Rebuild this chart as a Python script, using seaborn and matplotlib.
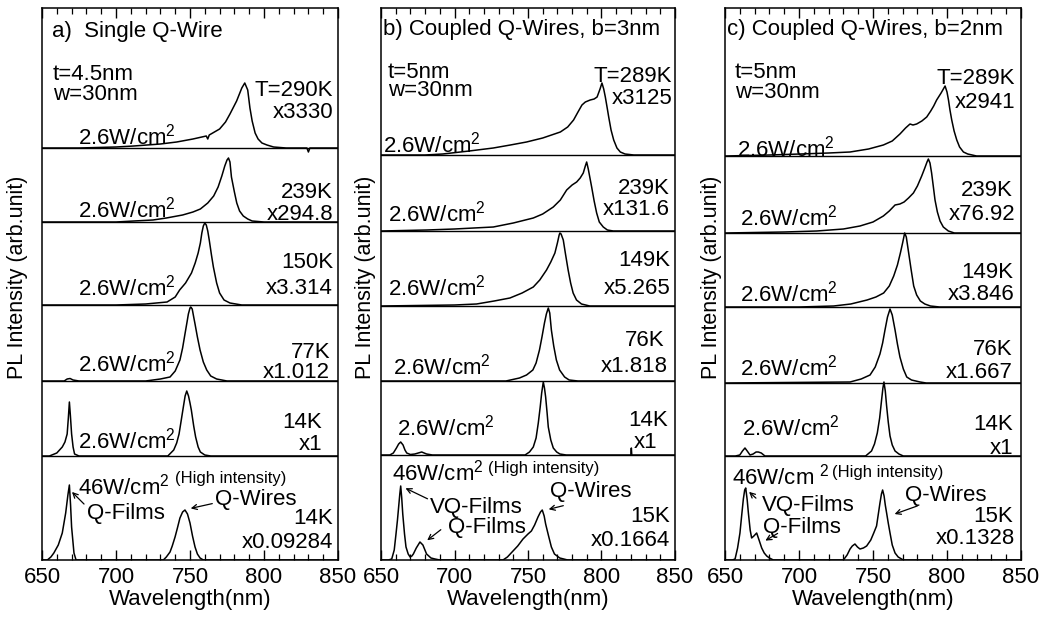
import numpy as np
import pandas as pd
import matplotlib
matplotlib.use("Agg")
import matplotlib.pyplot as plt
import seaborn as sns

# ---------------- data: (wavelength nm, PL intensity arb.) ----------------
a_290K = [(650,0),(675,0),(700,1),(712,2),(730,4),(741,6),(752,9),(758,11),(761,12),(762,9),(763,13),(770,19),(774,26),(777,34),(781.5,47),(785,60),(787,65),(789,58),(790.5,40),(792,27),(794,15),(796,9),(798.6,5),(802,3),(806.5,1),(815,0),(829,0),(830,-4),(831,0),(850,0)]
a_239K = [(650,0),(700,0),(712,1),(725,2),(734,4),(745,7),(752,10),(757,13),(762,19),(766,26),(769,35),(771.5,46),(773.5,56),(775,62),(776,64),(777,60),(778,45),(780,30),(781.6,19),(783.5,11),(786,6),(789,3),(792,1),(800,0),(850,0)]
a_150K = [(650,0),(700,0),(720,1),(734.5,3),(740,8),(743,15),(747,22),(751,32),(753.5,42),(755.5,52),(757,62),(758,72),(759,79),(760,82),(761,80),(762,74),(763,65),(764.5,50),(765.8,38),(768,22),(770,12),(773,5),(777,2),(785,0),(850,0)]
a_77K = [(650,0),(665,0),(667,2),(669,2.5),(671,1),(675,0),(720,0),(730,2),(736.5,4),(740,10),(743.2,21),(745,33),(746.6,47),(748,59),(748.9,67),(750,73),(750.5,74),(751.5,72),(752.5,64),(753.4,57),(755,44),(756.8,31),(759,19),(761.3,11),(764,5),(768,2),(775,0),(850,0)]
a_14K = [(650,0),(655,0),(660,3),(663.7,9),(665.5,14),(667,22),(667.8,38),(668.5,54),(669.2,40),(670,22),(671,9),(672,2),(675,0),(735,0),(739,6),(741,13),(742.6,22),(744,35),(745.5,49),(746.7,60),(747.8,65),(749,60),(750,53),(750.9,46),(752.5,30),(753.8,19),(755.5,9),(757,4),(760,1),(764,0),(850,0)]
a_14K_high = [(650,0),(653.6,0),(656,3),(658,7),(661,15),(663.7,27),(666,47),(667.5,65),(668.5,75),(669.3,55),(670,33),(671.6,7),(673,0),(732,0),(734,3),(736.5,8),(738,14),(739.9,23),(741.5,32),(743.2,42),(745,48),(746.6,50),(748.3,46),(750,37),(751.7,24),(753.4,13),(755,6),(756.8,2),(759,0),(850,0)]

b_289K = [(650,0),(680,0),(692,1),(710,4),(726.4,7),(738,10),(749,13),(760,17),(772,23),(777,28),(781,35),(784,43),(786.7,50),(789,53),(792.3,55),(795,56),(797,58),(799,66),(800.3,72),(801.5,66),(802.6,58),(804,46),(804.9,38),(806.5,25),(808.3,15),(810.5,7),(812.8,3),(816,1),(822,0),(850,0)]
b_239K = [(650,0),(681,1),(700,2),(726.4,4),(740,8),(753.6,13),(760,17),(767.2,24),(772,31),(776.3,41),(780,46),(783.1,49),(785.5,53),(787.6,58),(789,65),(789.9,69),(791,62),(793.3,44),(795,30),(796.7,18),(798.5,9),(801.2,4),(804,1),(808,0),(850,0)]
b_149K = [(650,0),(700,1),(715,2),(727,5),(737.7,8),(746,13),(753.6,19),(758,26),(762.6,36),(765.5,44),(768.3,53),(770,63),(771.2,71),(771.7,73),(772.5,72),(774,66),(775.5,52),(777.3,36),(779,23),(780.7,13),(783,6),(786.4,2),(792,0),(850,0)]
b_76K = [(650,0),(735,0),(744.2,3),(749,6),(753.3,11),(755.5,18),(757.8,31),(759.5,44),(761.2,58),(762.5,67),(763.8,73),(764.8,68),(765.9,51),(767.5,35),(769.3,21),(771.5,11),(774.9,4),(778,1),(784,0),(850,0)]
b_14K = [(650,0),(656,0),(658.4,2),(660.5,7),(662,11),(663.4,13),(665,10),(666.3,5),(667.5,2),(670,0.5),(673,1),(677.7,3),(681,1),(685,0),(748,0),(751,3),(753.6,8),(755.5,17),(757,32),(758.3,48),(759.3,62),(760.4,73),(761.2,67),(762,58),(763,42),(763.8,28),(765.5,15),(767.2,7),(769.5,3),(771.7,1),(776,0),(820,0),(820.3,7),(820.6,0),(850,0)]
b_15K_high = [(650,0),(655,0),(657.3,1),(659,10),(660.2,26),(661.2,40),(662,53),(662.8,66),(663.4,74),(664.1,62),(664.8,46),(666,26),(667,13),(668.5,6),(669.8,3),(671,4),(672,6),(674,12),(676.5,18),(678.5,15),(681,6),(684,2),(686.7,1),(690,0),(733,0),(736,3),(739.8,9),(743,14),(746.6,21),(750,26),(752.3,29),(754.5,35),(756.8,43),(758.5,48),(759.7,50),(761,44),(762,36),(764,24),(765.9,13),(768,6),(771.6,2),(777,0),(850,0)]

c_289K = [(650,0),(680,1),(700.7,2),(720,3),(734.5,4),(747,7),(757,11),(763,15),(768.2,22),(772,28),(775,32),(777,31),(779.5,32),(783,35),(786.3,39),(789,45),(791,50),(793,56),(796,63),(798.7,70),(800,64),(801,56),(802,46),(803.2,36),(804.8,25),(806.6,16),(808.5,9),(811.1,4),(814,2),(820,0),(850,0)]
c_239K = [(650,0),(690,1),(712,2),(730,4),(741.2,7),(750,11),(757,17),(761,22),(764.9,28),(768.2,29),(771,31),(774,35),(777.3,40),(780,47),(782.9,57),(785,65),(786.5,71),(787.4,74),(788.5,70),(789.6,60),(790.8,46),(791.9,33),(793.5,21),(795.3,12),(797.5,6),(800.9,2),(805,0),(850,0)]
c_149K = [(650,0),(700,0),(723.4,1),(735,3),(746,7),(752,10),(757.2,14),(761,21),(764,31),(766.5,42),(768.5,54),(770,64),(771.4,74),(772.5,70),(774.1,54),(775.8,37),(777.5,21),(779.5,12),(782,6),(785,3),(788.8,1),(795,0),(850,0)]
c_76K = [(650,0),(734.5,1),(742,4),(748,8),(751.5,16),(754.7,29),(756.5,40),(758.1,53),(759.8,66),(761.5,74),(763,68),(764.9,53),(766.5,39),(768.2,26),(770.5,14),(772.8,6),(776,3),(781.8,1),(786,0),(850,0)]
c_14K = [(650,0),(657,0),(660,1),(661.8,5),(663.5,8),(665,5),(666.9,1),(669,2),(671,4),(672.5,4),(674.5,3),(677,0),(745,0),(749,5),(751,12),(752.9,23),(754.5,38),(755.8,56),(756.7,68),(757.4,74),(758.3,65),(759.2,50),(760.3,34),(761.5,20),(763,11),(764.9,5),(767.5,2),(770.5,0),(850,0)]
c_15K_high = [(650,0),(655,0),(656.8,1),(658.5,12),(660.1,27),(661.3,45),(662.4,61),(663.3,70),(664,72),(665,60),(665.8,47),(667,30),(668,22),(669.5,24),(671.4,27),(673,20),(674.8,12),(676.5,7),(678.2,4),(680,2),(682.7,0),(730,0),(732.5,5),(734.5,11),(736,14),(737.8,16),(739.5,13),(741.2,11),(743.5,12),(745.7,14),(748.5,20),(750.5,27),(752.4,34),(753.5,45),(754.7,57),(755.7,66),(756.5,70),(757.5,64),(758.3,55),(759.2,47),(760.3,37),(761.5,27),(763,15),(764.9,7),(767,3),(770.5,0),(850,0)]

panel_titles = ["a)  Single Q-Wire", "b) Coupled Q-Wires, b=3nm", "c) Coupled Q-Wires, b=2nm"]
x_ticks = [650, 700, 750, 800, 850]

# ---------------- layout ----------------
sns.set_theme(style="ticks")
plt.rcParams['font.family'] = ['Liberation Sans', 'DejaVu Sans']
plt.rcParams['mathtext.fontset'] = 'custom'
plt.rcParams['mathtext.rm'] = 'Liberation Sans'
plt.rcParams['mathtext.it'] = 'Liberation Sans:italic'
plt.rcParams['mathtext.bf'] = 'Liberation Sans:bold'

W, H = 1045, 621
fig = plt.figure(figsize=(W / 100, H / 100), dpi=100)

TOP, BOT = 8, 560
panel_x = [(42, 338), (381, 675), (725, 1021)]
baselines_px = [
    [148, 222, 305, 381, 456, 560],
    [155, 231, 306, 381, 455, 560],
    [156, 233, 307, 383, 456, 560],
]
spectra = [
    [a_290K, a_239K, a_150K, a_77K, a_14K, a_14K_high],
    [b_289K, b_239K, b_149K, b_76K, b_14K, b_15K_high],
    [c_289K, c_239K, c_149K, c_76K, c_14K, c_15K_high],
]

FS = 16
ink = "black"


def ftext(x, y, s, ha="left", size=FS, **kw):
    fig.text(x / W, 1 - y / H, s, ha=ha, va="center", fontsize=size, color=ink, **kw)


def arrow(x0, y0, x1, y1):
    fig.add_artist(matplotlib.patches.FancyArrowPatch(
        (x0 / W, 1 - y0 / H), (x1 / W, 1 - y1 / H), transform=fig.transFigure,
        arrowstyle="->", mutation_scale=9, lw=0.9, color=ink))


for p in range(3):
    x0, x1 = panel_x[p]
    ax = fig.add_axes([x0 / W, 1 - BOT / H, (x1 - x0) / W, (BOT - TOP) / H])
    for k, spec in enumerate(spectra[p]):
        base = BOT - baselines_px[p][k]
        df = pd.DataFrame(spec, columns=["wl", "pl"])
        df["y"] = df["pl"] + base
        sns.lineplot(data=df, x="wl", y="y", ax=ax, color=ink, linewidth=1.1,
                     estimator=None, sort=False, legend=False)
        if k < 5:
            ax.axhline(base, color=ink, lw=1.0)
    ax.set_xlim(650, 850)
    ax.set_ylim(0, BOT - TOP)
    ax.set_yticks([])
    ax.set_xticks(x_ticks)
    ax.set_xticks(np.arange(650, 851, 10), minor=True)
    ax.tick_params(axis="x", which="both", direction="in", top=True, bottom=True,
                   labelsize=FS, colors=ink, pad=5)
    ax.tick_params(axis="x", which="major", length=7, width=1.0)
    ax.tick_params(axis="x", which="minor", length=4.5, width=0.9)
    for s in ax.spines.values():
        s.set_color(ink)
        s.set_linewidth(1.1)
    ax.set_xlabel("Wavelength(nm)", fontsize=FS, labelpad=1, color=ink)
    ax.set_ylabel("")

# y labels
for xc in (18, 365, 711):
    fig.text(xc / W, 1 - 277 / H, "PL Intensity (arb.unit)", rotation=90,
             ha="center", va="center", fontsize=15.5, color=ink)

# ---------------- panel a texts ----------------
ftext(52, 31, panel_titles[0])
ftext(53, 75, "t=4.5nm")
ftext(53, 95, "w=30nm")
ftext(333, 90, "T=290K", ha="right")
ftext(333, 113, "x3330", ha="right")
ftext(78, 137, "2.6W/cm$^2$")
ftext(333, 192, "239K", ha="right")
ftext(333, 214, "x294.8", ha="right")
ftext(78, 210, "2.6W/cm$^2$")
ftext(333, 263, "150K", ha="right")
ftext(333, 288, "x3.314", ha="right")
ftext(78, 288, "2.6W/cm$^2$")
ftext(330, 353, "77K", ha="right")
ftext(330, 373, "x1.012", ha="right")
ftext(78, 364, "2.6W/cm$^2$")
ftext(322, 422, "14K", ha="right")
ftext(322, 445, "x1", ha="right")
ftext(78, 441, "2.6W/cm$^2$")
ftext(78, 487, "46W/cm$^2$")
ftext(175, 479, "(High intensity)", size=12)
ftext(87, 514, "Q-Films")
ftext(215, 500, "Q-Wires")
ftext(333, 519, "14K", ha="right")
ftext(333, 543, "x0.09284", ha="right")
arrow(86, 506, 70, 490)
arrow(215, 503, 188, 509)

# ---------------- panel b texts ----------------
ftext(383, 29, panel_titles[1])
ftext(388, 72, "t=5nm")
ftext(388, 91, "w=30nm")
ftext(672, 76, "T=289K", ha="right")
ftext(672, 98, "x3125", ha="right")
ftext(383, 145, "2.6W/cm$^2$")
ftext(670, 188, "239K", ha="right")
ftext(670, 210, "x131.6", ha="right")
ftext(388, 214, "2.6W/cm$^2$")
ftext(670, 261, "149K", ha="right")
ftext(670, 288, "x5.265", ha="right")
ftext(388, 288, "2.6W/cm$^2$")
ftext(665, 340, "76K", ha="right")
ftext(668, 367, "x1.818", ha="right")
ftext(393, 367, "2.6W/cm$^2$")
ftext(668, 421, "14K", ha="right")
ftext(657, 443, "x1", ha="right")
ftext(397, 428, "2.6W/cm$^2$")
ftext(392, 473, "46W/cm$^2$")
ftext(488, 468, "(High intensity)", size=12)
ftext(430, 508, "VQ-Films")
ftext(448, 528, "Q-Films")
ftext(550, 492, "Q-Wires")
ftext(670, 516, "15K", ha="right")
ftext(670, 540, "x0.1664", ha="right")
arrow(430, 500, 403, 487)
arrow(443, 528, 425, 542)
arrow(566, 505, 546, 510)

# ---------------- panel c texts ----------------
ftext(727, 29, panel_titles[2])
ftext(735, 72, "t=5nm")
ftext(735, 92, "w=30nm")
ftext(1015, 79, "T=289K", ha="right")
ftext(1015, 102, "x2941", ha="right")
ftext(737, 149, "2.6W/cm$^2$")
ftext(1013, 191, "239K", ha="right")
ftext(1015, 214, "x76.92", ha="right")
ftext(740, 218, "2.6W/cm$^2$")
ftext(1013, 273, "149K", ha="right")
ftext(1015, 295, "x3.846", ha="right")
ftext(740, 294, "2.6W/cm$^2$")
ftext(1013, 350, "76K", ha="right")
ftext(1013, 372, "x1.667", ha="right")
ftext(740, 368, "2.6W/cm$^2$")
ftext(1013, 425, "14K", ha="right")
ftext(1013, 448, "x1", ha="right")
ftext(742, 428, "2.6W/cm$^2$")
ftext(732, 477, "46W/cm $^2$")
ftext(832, 473, "(High intensity)", size=12)
ftext(762, 505, "VQ-Films")
ftext(763, 527, "Q-Films")
ftext(905, 496, "Q-Wires")
ftext(1013, 517, "15K", ha="right")
ftext(1015, 538, "x0.1328", ha="right")
arrow(758, 500, 747, 490)
arrow(780, 532, 763, 542)
arrow(920, 505, 892, 515)

fig.savefig("out.png", dpi=100)
